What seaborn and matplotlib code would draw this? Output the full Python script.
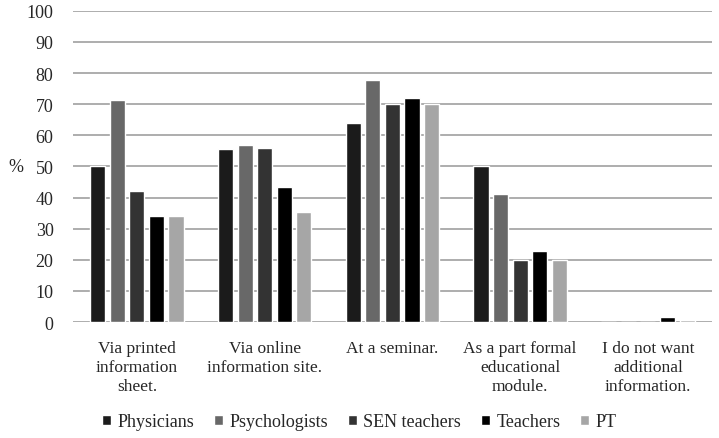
import matplotlib
matplotlib.use("Agg")
import matplotlib.pyplot as plt
import seaborn as sns
import pandas as pd
from matplotlib.patches import Patch

categories = ["Via printed\ninformation\nsheet.",
              "Via online\ninformation site.",
              "At a seminar.",
              "As a part formal\neducational\nmodule.",
              "I do not want\nadditional\ninformation."]
groups = ["Physicians", "Psychologists", "SEN teachers", "Teachers", "PT"]
physicians = [50.0, 55.6, 64.0, 50.0, 0.0]
psychologists = [71.4, 57.0, 77.8, 41.2, 0.0]
sen_teachers = [42.0, 56.0, 70.2, 20.0, 0.0]
teachers = [34.0, 43.5, 72.0, 22.7, 1.5]
pt = [34.0, 35.3, 70.0, 20.0, 0.8]
yticks = list(range(0, 101, 10))

colors = ["#1b1b1b", "#686868", "#333333", "#000000", "#a6a6a6"]

rows = []
for g, vals in zip(groups, [physicians, psychologists, sen_teachers, teachers, pt]):
    for c, v in zip(categories, vals):
        rows.append({"category": c, "group": g, "value": v})
df = pd.DataFrame(rows)

sns.set_style("white")
plt.rcParams["font.family"] = "serif"
plt.rcParams["font.serif"] = ["Liberation Serif", "DejaVu Serif"]
FAM = "Liberation Serif"

fig = plt.figure(figsize=(7.19, 4.39), dpi=100)
ax = fig.add_axes([0.1015, 0.264, 0.8885, 0.709])

sns.barplot(data=df, x="category", y="value", hue="group", hue_order=groups,
            order=categories, palette=colors, width=0.766, gap=0.23,
            saturation=1, ax=ax, legend=False, zorder=3)

ax.set_ylim(0, 100)
ax.set_xlim(-0.5, 4.5)
ax.set_yticks(yticks)
ax.set_yticklabels([str(t) for t in yticks], fontsize=13, family=FAM)
ax.yaxis.grid(True, color="#a0a0a0", linewidth=1.2, zorder=0)
ax.set_axisbelow(True)
for s in ["top", "right", "left", "bottom"]:
    ax.spines[s].set_visible(False)
ax.tick_params(axis="both", length=0)
ax.tick_params(axis="y", pad=14)
ax.tick_params(axis="x", pad=13)
for lbl in ax.get_xticklabels():
    lbl.set_fontsize(12.5)
    lbl.set_family(FAM)
    lbl.set_linespacing(1.25)
ax.set_xlabel("")
ax.set_ylabel("%", fontsize=13, family=FAM, rotation=0, labelpad=8, va="center")

handles = [Patch(facecolor=c, label=g) for c, g in zip(colors, groups)]
fig.legend(handles=handles, loc="center", bbox_to_anchor=(0.5, 0.037), ncol=5,
           frameon=False, prop={"family": FAM, "size": 13}, handlelength=0.5,
           handleheight=0.5, handletextpad=0.35, columnspacing=1.1)

fig.savefig("out.png", dpi=100)
